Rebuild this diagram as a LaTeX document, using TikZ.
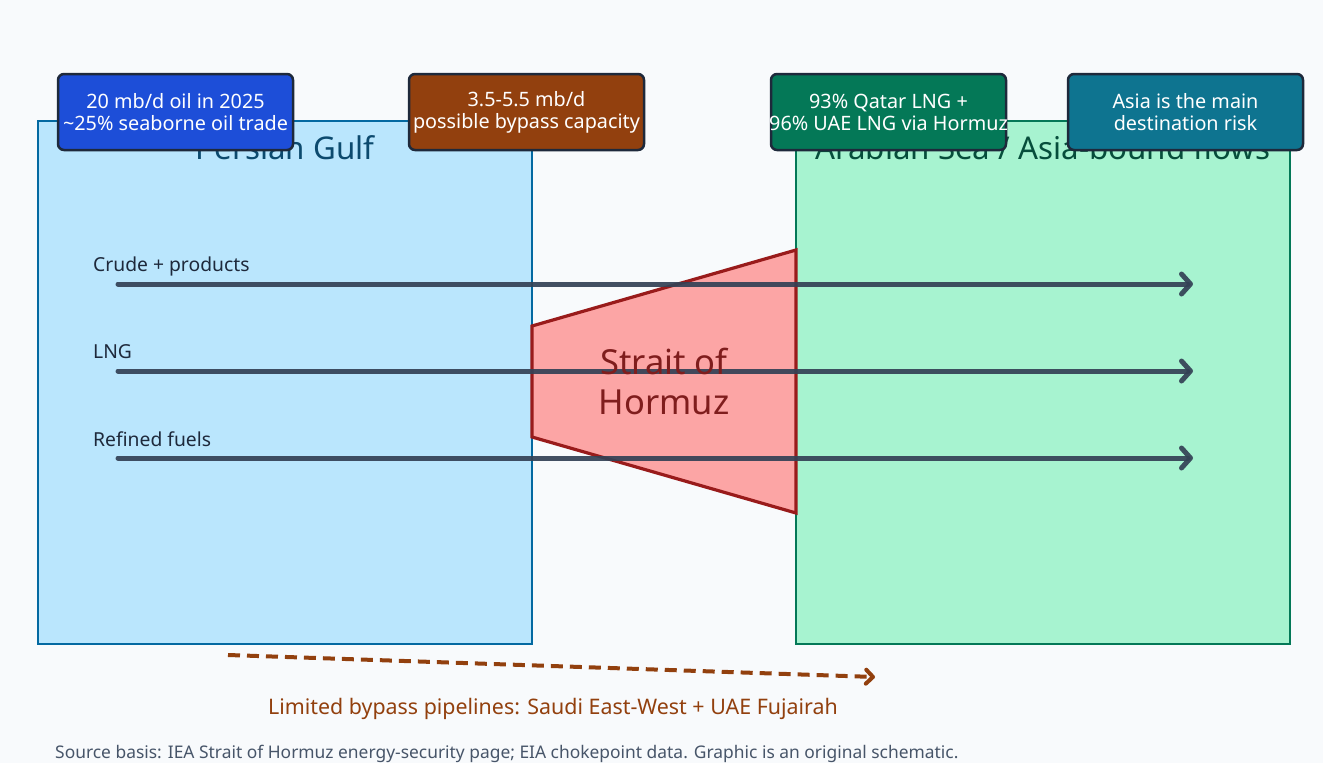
\documentclass[tikz,border=0pt]{standalone}
\usepackage{fontspec}
\setmainfont{Noto Sans}
\usetikzlibrary{arrows.meta}
\definecolor{bg}{HTML}{F8FAFC}
\definecolor{gulffill}{HTML}{BAE6FD}
\definecolor{gulfline}{HTML}{0369A1}
\definecolor{gulftext}{HTML}{0C4A6E}
\definecolor{seafill}{HTML}{A7F3D0}
\definecolor{sealine}{HTML}{047857}
\definecolor{seatext}{HTML}{064E3B}
\definecolor{strfill}{HTML}{FCA5A5}
\definecolor{strline}{HTML}{991B1B}
\definecolor{strtext}{HTML}{7F1D1D}
\definecolor{flow}{HTML}{334155}
\definecolor{labtext}{HTML}{1E293B}
\definecolor{cblue}{HTML}{1D4ED8}
\definecolor{cbrown}{HTML}{92400E}
\definecolor{cgreen}{HTML}{047857}
\definecolor{cteal}{HTML}{0E7490}
\definecolor{srctext}{HTML}{475569}
\tikzset{
  region/.style={line width=2.2pt},
  title/.style={font=\fontsize{31.3}{34}\selectfont, anchor=center},
  flowarrow/.style={draw=flow, line width=5pt, line cap=round, opacity=0.92,
     -{Straight Barb[length=9pt,width=20pt,line cap=round,line join=round]}},
  flowlabel/.style={anchor=base west, text=labtext, font=\fontsize{19.3}{20}\selectfont, inner sep=0pt},
  callout/.style={draw=labtext, line width=2.5pt, rounded corners=6pt, minimum width=235pt,
     minimum height=76pt, inner sep=0pt},
  callouttext/.style={text=white, align=center, inner sep=0pt,
     font=\fontsize{19.8}{22}\selectfont},
}
\begin{document}
\begin{tikzpicture}[x=1pt,y=-1pt]
\useasboundingbox (0,0) rectangle (1323,763);
\fill[bg] (0,0) rectangle (1323,763);
% regions
\draw[region, fill=gulffill, draw=gulfline] (38,121) rectangle (532,644);
\draw[region, fill=seafill, draw=sealine] (796,121) rectangle (1290,644);
\node[title, text=gulftext] (gulf) at (285,148) {Persian Gulf};
\node[title, text=seatext] (sea) at (1043,148) {Arabian Sea / Asia-bound flows};
% strait
\draw[fill=strfill, draw=strline, line width=3.2pt, line join=miter]
  (532,326) -- (796,250) -- (796,513) -- (532,437) -- cycle;
% flow labels and arrows
\node[flowlabel] (l1) at (93,271) {Crude + products};
\node[flowlabel] (l2) at (93,358) {LNG};
\node[flowlabel] (l3) at (93,446) {Refined fuels};
\coordinate (s1) at (118,284); \coordinate (e1) at (1193,284);
\coordinate (s2) at (118,371); \coordinate (e2) at (1193,371);
\coordinate (s3) at (118,458); \coordinate (e3) at (1193,458);
\draw[flowarrow] (s1) -- (e1);
\draw[flowarrow] (s2) -- (e2);
\draw[flowarrow] (s3) -- (e3);
\node[text=strtext, align=center, font=\fontsize{34.5}{40}\selectfont] (strait) at (664,381) {Strait of\\Hormuz};
% callouts
\node[callout, fill=cblue] (c1) at (175.5,112) {};
\node[callouttext] (c1t) at (c1.center) {20 mb/d oil in 2025\\\textasciitilde25\% seaborne oil trade};
\node[callout, fill=cbrown] (c2) at (526.5,112) {};
\node[callouttext] (c2t) at (c2.center) {3.5-5.5 mb/d\\possible bypass capacity};
\node[callout, fill=cgreen] (c3) at (888.5,112) {};
\node[callouttext] (c3t) at (c3.center) {93\% Qatar LNG +\\96\% UAE LNG via Hormuz};
\node[callout, fill=cteal] (c4) at (1185.5,112) {};
\node[callouttext] (c4t) at (c4.center) {Asia is the main\\destination risk};
% bypass
\coordinate (b1) at (228,655); \coordinate (b2) at (875,677);
\draw[draw=cbrown, line width=4pt, dash pattern=on 12pt off 7pt,
  -{Straight Barb[length=7pt,width=14pt,line cap=round,line join=round]}] (b1) -- (b2);
\node[text=cbrown, font=\fontsize{21.4}{24}\selectfont] (bypass) at (553,709) {Limited bypass pipelines: Saudi East-West + UAE Fujairah};
\node[anchor=base west, text=srctext, font=\fontsize{17.4}{18}\selectfont, inner sep=0pt] (src) at (55,758) {Source basis: IEA Strait of Hormuz energy-security page; EIA chokepoint data. Graphic is an original schematic.};
\end{tikzpicture}
\end{document}
